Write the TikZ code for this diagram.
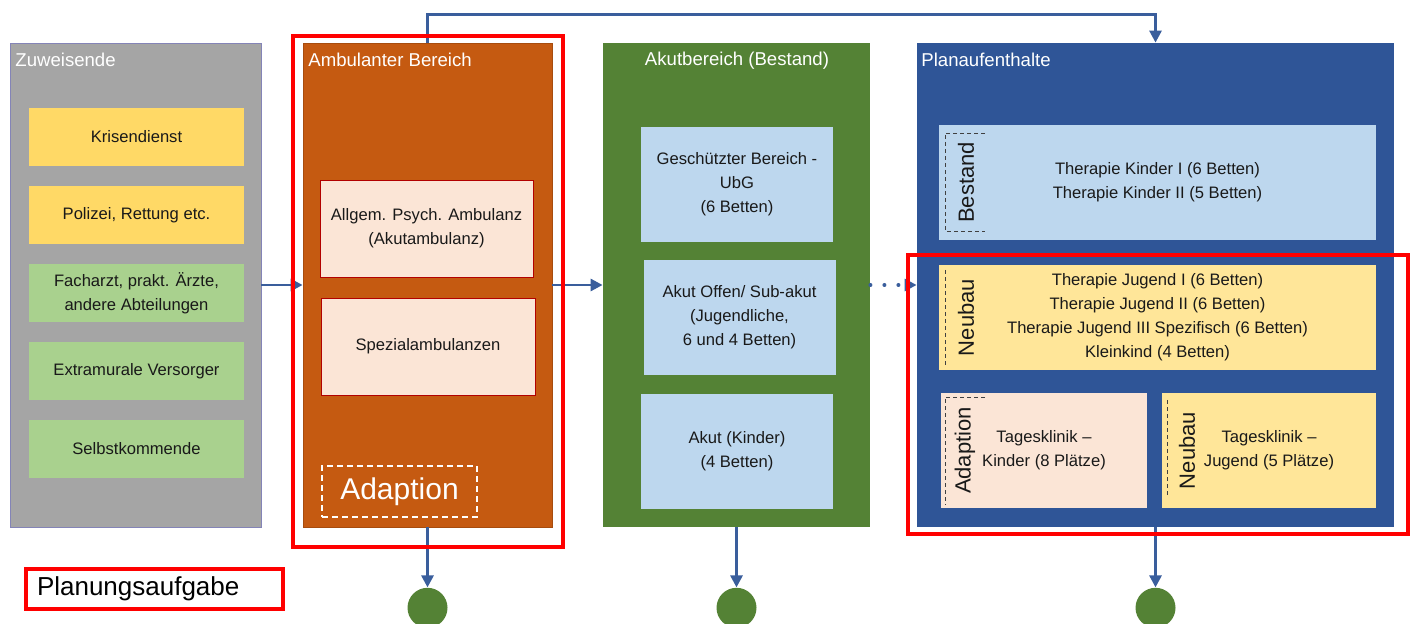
\documentclass[tikz,border=0pt]{standalone}
\usepackage{fontspec}
\setmainfont{Liberation Sans}
\usetikzlibrary{positioning,arrows.meta}

\definecolor{colgray}{HTML}{A5A5A5}
\definecolor{colorange}{HTML}{C55A11}
\definecolor{colgreen}{HTML}{548235}
\definecolor{colblue}{HTML}{2F5597}
\definecolor{boxyellow}{HTML}{FFD966}
\definecolor{boxgreen}{HTML}{A9D18E}
\definecolor{boxblue}{HTML}{BDD7EE}
\definecolor{boxpeach}{HTML}{FBE5D6}
\definecolor{boxcream}{HTML}{FFE699}
\definecolor{arrowblue}{HTML}{3A5E9C}

\begin{document}
\begin{tikzpicture}[x=0.5pt,y=-0.5pt,
    column/.style={rectangle, inner sep=0pt, minimum height=242pt},
    coltitle/.style={text=white, inner sep=0pt, font=\fontsize{9.3}{11}\selectfont},
    box/.style={rectangle, inner sep=2pt, align=center, text=black!90,
        font=\fontsize{8.3}{12}\selectfont},
    tag/.style={rotate=90, inner sep=0pt, text=black!90, font=\fontsize{11}{13}\selectfont},
    tagline/.style={black!75, line width=0.4pt, dash pattern=on 2pt off 1.5pt},
    flow/.style={draw=arrowblue, line width=1.4pt, -{Triangle[length=6pt,width=6pt]}},
    hilite/.style={draw=red, line width=2pt},
    endpt/.style={circle, fill=colgreen, minimum size=20pt, inner sep=0pt}]
    % \draw[help lines] (0,0) grid[step=50] (1416,624);
    \useasboundingbox (0,0) rectangle (1416,624);

    % columns
    \node[column, fill=colgray, draw=colgray!80!blue, minimum width=125.5pt] (zuw) at (135.5,285) {};
    \node[column, fill=colorange, draw=colorange!85!black, minimum width=124.5pt] (amb) at (427.5,285) {};
    \node[column, fill=colgreen, minimum width=133.5pt] (akut) at (736.5,285) {};
    \node[column, fill=colblue, minimum width=238.5pt] (plan) at (1155.5,285) {};

    \node[coltitle, anchor=west] (zuwT) at (15,60) {Zuweisende};
    \node[coltitle, anchor=west] (ambT) at (308,60) {Ambulanter Bereich};
    \node[coltitle] (akutT) at (737,61) {Akutbereich (Bestand)};
    \node[coltitle, anchor=west] (planT) at (921,60) {Planaufenthalte};

    % Zuweisende
    \node[box, fill=boxyellow, minimum width=107.5pt, minimum height=29pt] (kris) at (136.5,137) {Krisendienst};
    \node[box, fill=boxyellow, minimum width=107.5pt, minimum height=29pt] (poli) at (136.5,215) {Polizei, Rettung etc.};
    \node[box, fill=boxgreen, minimum width=107.5pt, minimum height=29pt] (fach) at (136.5,293.5) {Facharzt, prakt. Ärzte,\\andere Abteilungen};
    \node[box, fill=boxgreen, minimum width=107.5pt, minimum height=29pt] (extra) at (136.5,371.5) {Extramurale Versorger};
    \node[box, fill=boxgreen, minimum width=107.5pt, minimum height=29pt] (selbst) at (136.5,448.5) {Selbstkommende};

    % Ambulanter Bereich
    \node[box, fill=boxpeach, draw=red!70!black, minimum width=106.5pt, minimum height=48.5pt] (allg) at (426.5,228.5) {Allgem. Psych. Ambulanz\\(Akutambulanz)};
    \node[box, fill=boxpeach, draw=red!70!black, minimum width=107pt, minimum height=48.5pt] (spez) at (428,346.5) {Spezialambulanzen};
    \node[draw=white, line width=0.6pt, dash pattern=on 3pt off 2pt, text=white, inner sep=0pt,
        minimum width=77.5pt, minimum height=25.5pt, font=\fontsize{15}{17}\selectfont] (adapA) at (399.5,491.5) {Adaption};

    % Akutbereich
    \node[box, fill=boxblue, minimum width=96pt, minimum height=57.5pt] (ubg) at (737,184.5) {Geschützter Bereich -\\UbG\\(6 Betten)};
    \node[box, fill=boxblue, minimum width=96pt, minimum height=57.5pt] (offen) at (739.5,317.5) {Akut Offen/ Sub-akut\\(Jugendliche,\\6 und 4 Betten)};
    \node[box, fill=boxblue, minimum width=96pt, minimum height=57.5pt] (kind) at (737,451.5) {Akut (Kinder)\\(4 Betten)};

    % Planaufenthalte
    \node[box, fill=boxblue, minimum width=218.5pt, minimum height=57.5pt] (thki) at (1157.5,182.5) {Therapie Kinder I (6 Betten)\\Therapie Kinder II (5 Betten)};
    \node[box, fill=boxcream, minimum width=218.5pt, minimum height=52.5pt] (thju) at (1157.5,317.5) {Therapie Jugend I (6 Betten)\\Therapie Jugend II (6 Betten)\\Therapie Jugend III Spezifisch (6 Betten)\\Kleinkind (4 Betten)};
    \node[box, fill=boxpeach, minimum width=103pt, minimum height=57.5pt] (tkki) at (1044,450.5) {Tagesklinik --\\Kinder (8 Plätze)};
    \node[box, fill=boxcream, minimum width=107pt, minimum height=57.5pt] (tkju) at (1269,450.5) {Tagesklinik --\\Jugend (5 Plätze)};

    \node[tag] (tagB) at (966,182.5) {Bestand};
    \node[tag] (tagN) at (966,317.5) {Neubau};
    \node[tag] (tagA) at (965,450.5) {Adaption};
    \node[tag] (tagN2) at (1187,450.5) {Neubau};
    \draw[tagline] (985,133) -| (945,231) -- (985,231);
    \draw[tagline] (945,270) -- (945,365);
    \draw[tagline] (985,397) -| (945,505);
    \draw[tagline] (1167,400) -- (1167,497);

    % connectors
    \draw[flow] (zuw.east) -- (amb.west);
    \draw[flow] (amb.east) -- (akut.west);
    \draw[flow, line width=2pt, dash pattern=on 0pt off 7pt, line cap=round] (akut.east) -- (plan.west);
    \draw[flow] (amb.north) -- ++(0,-28) -| (plan.north);

    \node[endpt, below=30pt of amb] (ambE) {};
    \node[endpt, below=30pt of akut] (akutE) {};
    \node[endpt, below=30pt of plan] (planE) {};
    \draw[flow] (amb.south) -- (ambE.north);
    \draw[flow] (akut.south) -- (akutE.north);
    \draw[flow] (plan.south) -- (planE.north);

    % Planungsaufgabe
    \draw[hilite] (293,36) rectangle (563,547);
    \draw[hilite] (908,255) rectangle (1408,534);
    \node[hilite, inner xsep=5.5pt, inner ysep=0pt, text width=117.5pt, minimum height=20pt,
        align=left, font=\fontsize{13}{15}\selectfont] (task) at (154.5,589) {Planungsaufgabe};
\end{tikzpicture}
\end{document}
